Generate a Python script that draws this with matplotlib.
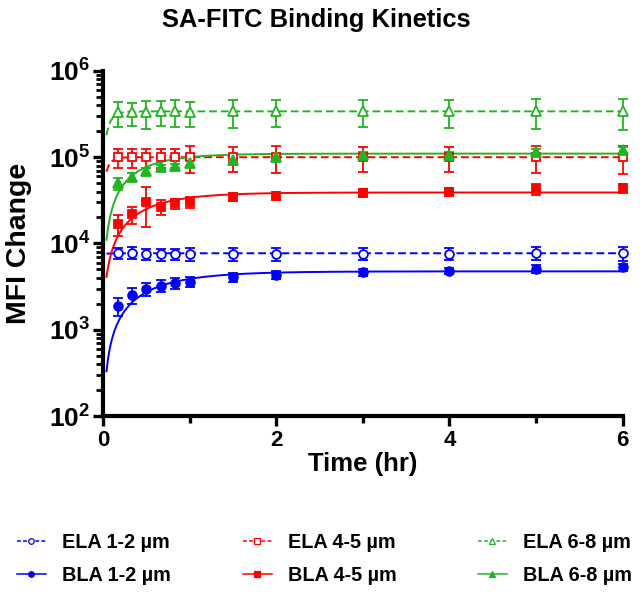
import numpy as np
import matplotlib
matplotlib.use("Agg")
import matplotlib.pyplot as plt
from matplotlib.lines import Line2D
from matplotlib.ticker import FixedLocator, LogLocator, FuncFormatter, NullFormatter

plt.rcParams['font.family'] = ['Liberation Sans', 'DejaVu Sans']
plt.rcParams['font.weight'] = 'bold'
plt.rcParams['mathtext.fontset'] = 'custom'
plt.rcParams['mathtext.rm'] = 'Liberation Sans:bold'
plt.rcParams['mathtext.bf'] = 'Liberation Sans:bold'

# time points (hr)
times = [0.167, 0.333, 0.5, 0.667, 0.833, 1.0, 1.5, 2, 3, 4, 5, 6]

# mean MFI change and SD
ela_12 = [7.7e3, 7.8e3, 7.6e3, 7.5e3, 7.6e3, 7.6e3, 7.6e3, 7.6e3, 7.6e3, 7.6e3, 7.7e3, 7.7e3]
ela_12_sd = [1.1e3, 1.2e3, 1.1e3, 1.2e3, 1.1e3, 1.3e3, 1.3e3, 1.3e3, 1.2e3, 1.2e3, 1.3e3, 1.4e3]
bla_12 = [1.88e3, 2.52e3, 2.94e3, 3.24e3, 3.45e3, 3.6e3, 4.05e3, 4.3e3, 4.65e3, 4.83e3, 5.1e3, 5.35e3]
bla_12_sd = [4.5e2, 5.5e2, 5e2, 5e2, 4.8e2, 4.8e2, 4.8e2, 4.5e2, 4e2, 4e2, 5e2, 5e2]

ela_45 = [1.0e5, 1.0e5, 1.0e5, 1.0e5, 1.0e5, 1.0e5, 1.0e5, 1.0e5, 1.0e5, 1.0e5, 1.0e5, 1.0e5]
ela_45_sd = [2.5e4, 2.5e4, 2.6e4, 2.5e4, 2.5e4, 3.4e4, 3.2e4, 3.5e4, 3.3e4, 3.3e4, 3.5e4, 3.6e4]
bla_45 = [1.68e4, 2.17e4, 3.04e4, 2.66e4, 2.92e4, 3.04e4, 3.48e4, 3.57e4, 3.85e4, 3.97e4, 4.24e4, 4.35e4]
bla_45_sd = [4.5e3, 5e3, 1.5e4, 5e3, 4e3, 4.5e3, 4e3, 3.5e3, 4e3, 4e3, 6e3, 5e3]

ela_68 = [3.3e5, 3.3e5, 3.3e5, 3.4e5, 3.4e5, 3.3e5, 3.4e5, 3.4e5, 3.4e5, 3.4e5, 3.4e5, 3.4e5]
ela_68_sd = [1.05e5, 1.0e5, 1.15e5, 1.1e5, 1.15e5, 1.05e5, 1.2e5, 1.15e5, 1.15e5, 1.2e5, 1.3e5, 1.35e5]
bla_68 = [4.97e4, 5.93e4, 6.95e4, 7.6e4, 7.9e4, 8.5e4, 9.4e4, 1.0e5, 1.06e5, 1.06e5, 1.16e5, 1.21e5]
bla_68_sd = [8e3, 6e3, 5e3, 5e3, 5e3, 8e3, 9e3, 8e3, 8e3, 8e3, 1e4, 1e4]

labels = ["ELA 1-2 µm", "BLA 1-2 µm", "ELA 4-5 µm", "BLA 4-5 µm", "ELA 6-8 µm", "BLA 6-8 µm"]

# one-phase association fit parameters (value at curve start, plateau, rate /hr)
fit_t0 = 0.04
fit_start = [7.6e3, 3.3e2, 6.8e4, 4.1e3, 1.8e5, 1.1e4]
fit_plateau = [7.7e3, 4.75e3, 1.0e5, 3.9e4, 3.4e5, 1.1e5]
fit_k = [20, 1.7, 18, 2.0, 15, 2.4]

blue = '#0000FF'
red = '#FF0000'
green = '#22B422'
colors = [blue, blue, red, red, green, green]
markers = ['o', 'o', 's', 's', '^', '^']
filled = [False, True, False, True, False, True]
means = [ela_12, bla_12, ela_45, bla_45, ela_68, bla_68]
sds = [ela_12_sd, bla_12_sd, ela_45_sd, bla_45_sd, ela_68_sd, bla_68_sd]
dash = (0, (4, 2))

fig = plt.figure(figsize=(6.4, 5.96), dpi=100)
ax = fig.add_axes([0.161, 0.302, 0.812, 0.579])

tt = np.linspace(fit_t0, 6, 400)
for i in range(6):
    c = colors[i]
    ls = '-' if filled[i] else dash
    curve = fit_plateau[i] - (fit_plateau[i] - fit_start[i]) * np.exp(-fit_k[i] * (tt - fit_t0))
    ax.plot(tt, curve, color=c, lw=1.4, ls=ls, zorder=2)
    ax.errorbar(times, means[i], yerr=sds[i], fmt=markers[i], color=c,
                mfc=c if filled[i] else 'white', mec=c, mew=1.3,
                ms=6.3 if markers[i] != '^' else 6.8,
                ecolor=c, elinewidth=1.3, capsize=3.8, capthick=1.3,
                clip_on=False, zorder=3)

ax.set_yscale('log')
ax.set_ylim(1e2, 1e6)
ax.set_xlim(0, 6)
ax.xaxis.set_major_locator(FixedLocator([0, 2, 4, 6]))
ax.xaxis.set_minor_locator(FixedLocator([1, 3, 5]))
ax.yaxis.set_major_locator(LogLocator(base=10, numticks=10))
ax.yaxis.set_minor_locator(LogLocator(base=10, subs=np.arange(2, 10), numticks=10))
ax.yaxis.set_major_formatter(FuncFormatter(lambda v, p: r'$\mathbf{10^{%d}}$' % round(np.log10(v))))
ax.yaxis.set_minor_formatter(NullFormatter())

for s in ['top', 'right']:
    ax.spines[s].set_visible(False)
for s in ['left', 'bottom']:
    ax.spines[s].set_linewidth(3.0)
ax.tick_params(which='major', direction='out', length=7, width=2.4, pad=3)
ax.tick_params(axis='x', which='major', labelsize=16)
ax.tick_params(axis='y', which='major', labelsize=19, pad=2)
ax.tick_params(axis='x', which='minor', direction='out', length=5, width=2.4)
ax.tick_params(axis='y', which='minor', direction='out', length=5, width=2.0)

fig.text(0.494, 1 - 20 / 596, "SA-FITC Binding Kinetics", fontsize=18.4, fontweight='bold',
         ha='center', va='center')
ax.set_xlabel("Time (hr)", fontsize=18.5, fontweight='bold')
ax.xaxis.set_label_coords(0.5, -(464 - 416) / 345.3, transform=ax.transAxes)
ax.xaxis.label.set_va('center')
ax.set_ylabel("MFI Change", fontsize=20.5, fontweight='bold')
ax.yaxis.set_label_coords(-(103 - 19) / 520, 0.5)
ax.yaxis.label.set_va('center')

# legend, three columns of two entries
col_x = [17 / 640, 243 / 640, 478 / 640]
for j in range(3):
    hs = []
    for i in (2 * j, 2 * j + 1):
        c = colors[i]
        hs.append(Line2D([], [], color=c, lw=1.1, ls='-' if filled[i] else (0, (2.5, 1.5)),
                         marker=markers[i], ms=4, mfc=c if filled[i] else 'white', mec=c, mew=0.9))
    fig.legend(hs, [labels[2 * j], labels[2 * j + 1]], loc='center left',
               bbox_to_anchor=(col_x[j], 1 - 559 / 596), frameon=False,
               borderpad=0, borderaxespad=0, handlelength=1.45, handletextpad=0.82,
               labelspacing=0.75, prop={'family': 'Liberation Sans', 'weight': 'bold', 'size': 14.3})

fig.savefig("out.png", dpi=100)
